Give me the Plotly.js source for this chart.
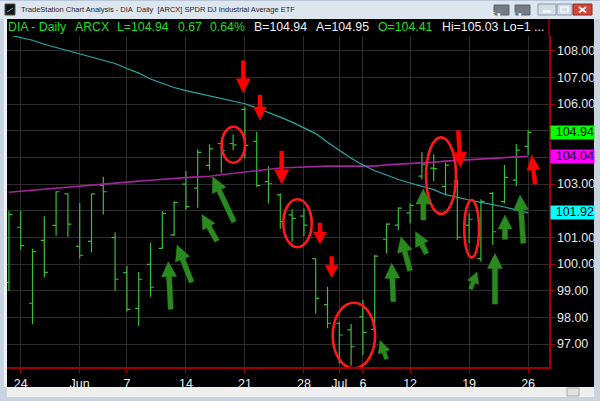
<!DOCTYPE html>
<html><head><meta charset="utf-8">
<script src="https://cdn.plot.ly/plotly-3.0.1.min.js"></script>
<style>html,body{margin:0;padding:0;background:#000;overflow:hidden}#chart{width:600px;height:401px}</style>
</head><body><div id="chart"></div>
<script>
// ---------------- data ----------------
const dates = [
 '2010-05-21','2010-05-24','2010-05-25','2010-05-26','2010-05-27','2010-05-28',
 '2010-06-01','2010-06-02','2010-06-03','2010-06-04',
 '2010-06-07','2010-06-08','2010-06-09','2010-06-10','2010-06-11',
 '2010-06-14','2010-06-15','2010-06-16','2010-06-17','2010-06-18',
 '2010-06-21','2010-06-22','2010-06-23','2010-06-24','2010-06-25',
 '2010-06-28','2010-06-29','2010-06-30','2010-07-01','2010-07-02',
 '2010-07-06','2010-07-07','2010-07-08','2010-07-09',
 '2010-07-12','2010-07-13','2010-07-14','2010-07-15','2010-07-16',
 '2010-07-19','2010-07-20','2010-07-21','2010-07-22','2010-07-23',
 '2010-07-26'];
const openP  = [99.31,101.38,98.53,100.89,101.45,102.63,100.66,100.85,102.95,100.99,
 99.68,98.34,99.99,100.59,101.09,103.00,102.85,103.70,104.52,104.52,
 105.80,104.60,103.09,102.59,101.84,101.80,100.20,98.48,97.78,97.53,
 98.02,97.55,100.93,101.46,101.92,103.30,103.60,102.90,103.10,101.46,
 100.20,102.65,102.34,103.15,104.41];
const highP  = [101.99,101.99,100.57,101.79,102.73,102.65,102.29,102.65,103.27,101.19,
 99.93,99.70,100.80,101.99,102.35,103.49,104.30,104.49,104.61,104.86,
 105.90,104.96,103.67,102.65,102.05,102.08,100.21,99.15,97.85,97.75,
 98.65,100.34,101.53,102.13,102.28,104.19,104.12,103.80,103.15,101.90,
 102.43,102.71,103.71,104.50,105.03];
const lowP   = [98.99,100.55,97.74,99.50,101.06,101.02,100.21,100.43,101.86,99.00,
 98.21,97.68,98.77,100.56,101.05,102.04,102.11,103.52,103.40,104.27,
 103.96,102.90,102.27,101.31,100.84,101.05,98.15,97.59,96.28,96.19,
 96.59,97.53,100.40,101.28,101.53,103.18,103.10,102.59,100.90,100.78,
 100.09,100.71,102.27,102.93,104.09];
const closeP = [101.85,100.69,100.47,99.69,102.71,101.50,100.33,102.63,102.71,99.43,
 98.30,99.43,99.13,101.90,102.30,102.15,104.19,104.32,104.25,104.47,
 104.45,102.94,103.01,101.59,101.71,101.46,98.71,97.78,97.34,96.90,
 97.44,100.30,101.50,102.10,102.20,103.75,103.58,103.71,101.00,101.68,
 102.35,101.21,103.25,104.27,104.94];
const avgCyan = [108.59,108.49,108.39,108.24,108.12,108.00,107.88,107.78,107.66,107.52,
 107.33,107.16,106.94,106.77,106.62,106.50,106.40,106.30,106.20,106.11,
 106.01,105.85,105.69,105.51,105.32,105.11,104.89,104.57,104.27,103.97,
 103.71,103.50,103.34,103.17,103.04,102.91,102.79,102.60,102.49,102.40,
 102.31,102.23,102.14,102.03,101.92];
const avgMagenta = [102.69,102.73,102.77,102.80,102.84,102.88,102.92,102.95,102.99,103.03,
 103.07,103.11,103.14,103.18,103.21,103.24,103.27,103.29,103.35,103.40,
 103.45,103.52,103.56,103.60,103.62,103.64,103.66,103.67,103.67,103.67,
 103.67,103.67,103.72,103.74,103.76,103.78,103.82,103.86,103.88,103.90,
 103.93,103.96,103.99,104.01,104.04];
const tickDates  = ['2010-05-24','2010-06-01','2010-06-07','2010-06-14','2010-06-21','2010-06-28','2010-07-01','2010-07-06','2010-07-12','2010-07-19','2010-07-26'];
const tickLabels = ['24','Jun','7','14','21','28','Jul','6','12','19','26'];
const bidText = 'B=104.94', askText = 'A=104.95', lowText = 'Lo=1 ...';

// ---------------- layout helpers ----------------
const W = 600, H = 401, ML = 7, MR = 51, MT = 36, MB = 34;
const PW = W - ML - MR, PH = H - MT - MB;
const PX = x => (x - ML) / PW;
const PY = y => (H - MB - y) / PH;
const FONT = '"Liberation Sans", Arial, Helvetica, sans-serif';
const GREEN = '#36be36', RED = '#ff0000', AGREEN = '#2b8a1f';

function arrowPath(dx, dy, shaftW, headW, headL) {
  const L = Math.hypot(dx, dy), ux = dx / L, uy = dy / L, nx = -uy, ny = ux;
  const bx = ux * headL, by = uy * headL;
  const pts = [[0,0],[bx+nx*headW/2,by+ny*headW/2],[bx+nx*shaftW/2,by+ny*shaftW/2],
    [dx+nx*shaftW/2,dy+ny*shaftW/2],[dx-nx*shaftW/2,dy-ny*shaftW/2],
    [bx-nx*shaftW/2,by-ny*shaftW/2],[bx-nx*headW/2,by-ny*headW/2]];
  return 'M' + pts.map(p => p[0].toFixed(2) + ',' + (-p[1]).toFixed(2)).join(' L') + ' Z';
}
function arrow(idx, price, dx, dy, color, shaftW, headW, headL) {
  return {type:'path', xref:'x', yref:'y', xsizemode:'pixel', ysizemode:'pixel',
    xanchor: idx, yanchor: price, path: arrowPath(dx, dy, shaftW, headW, headL),
    fillcolor: color, line:{color: color, width: 0.5}, layer:'above'};
}
function ring(x0, x1, y0, y1) {
  return {type:'circle', xref:'x', yref:'y', x0, x1, y0, y1,
    line:{color:'#ff1a1a', width:2.6}, fillcolor:'rgba(0,0,0,0)', layer:'above'};
}
function prect(x0, y0, x1, y1, fill, lc, lw) {
  return {type:'rect', xref:'paper', yref:'paper', x0:PX(x0), x1:PX(x1), y0:PY(y1), y1:PY(y0),
    fillcolor: fill, line:{color: lc || fill, width: lw || 0}, layer:'above'};
}
function pline(x0, y0, x1, y1, color, w) {
  return {type:'line', xref:'paper', yref:'paper', x0:PX(x0), x1:PX(x1), y0:PY(y0), y1:PY(y1),
    line:{color, width:w}, layer:'above'};
}

const shapes = [
  // window chrome
  prect(0, 0, 600, 19, '#dde5ee'),
  prect(0, 0, 600, 1, '#b8c6d8'),
  prect(0, 19, 7, 401, '#c9d4e1'),
  prect(4, 19, 7, 387, '#eef2f7'),
  prect(594, 19, 600, 401, '#c9d4e1'),
  prect(0, 387, 600, 401, '#c9d4e1'),
  prect(7, 387, 594, 397, '#efefef'),
  prect(567, 388, 579, 396, '#e2e2e2', '#a8a8a8', 1),
  prect(5, 4, 15, 15, '#111111', '#555', 1),
  pline(7, 12, 13, 8, '#2fd0d0', 1),
  prect(494, 5, 509, 15, '#737b85', '#5a626b', 1),
  prect(515, 5, 530, 15, '#737b85', '#5a626b', 1),
  prect(538, 4, 556, 15, '#d3dce7', '#8b9bb0', 1),
  pline(543, 11.5, 551, 11.5, '#ffffff', 2),
  prect(557, 4, 572, 15, '#d3dce7', '#8b9bb0', 1),
  prect(561, 7, 568, 12, 'rgba(0,0,0,0)', '#ffffff', 1.2),
  prect(573, 4, 592, 15, '#d2473a', '#8e2a22', 1),
  pline(579, 7, 586, 12.5, '#ffffff', 1.6),
  pline(579, 12.5, 586, 7, '#ffffff', 1.6),
  // axis line extension up into header
  pline(549, 36, 549, 19, '#a00000', 1.5),
  // ellipses
  ring(18.03, 20.01, 103.80, 105.15),
  ring(23.25, 25.66, 100.63, 102.43),
  ring(27.44, 31.03, 96.09, 98.55),
  ring(35.35, 37.89, 101.88, 104.75),
  ring(38.59, 39.84, 100.25, 102.40),
  // red arrows
  arrow(19.86, 106.42, 0, -32, RED, 4, 14, 14),
  arrow(21.28, 105.40, 0, -25, RED, 4, 13, 13),
  arrow(23.12, 103.00, 0, -33, RED, 4, 14, 14),
  arrow(26.36, 100.75, 0, -21, RED, 4, 13, 12),
  arrow(27.36, 99.50, 0, -21, RED, 4, 13, 12),
  arrow(38.28, 103.63, -2.4, -36.6, RED, 4, 14, 15),
  arrow(44.31, 104.09, 3.3, 29, RED, 4, 13, 15),
  // green arrows
  arrow(13.51, 100.09, 2.4, 47.6, AGREEN, 5, 15, 15),
  arrow(14.25, 100.71, 14.5, 37, AGREEN, 5, 15, 15),
  arrow(16.36, 101.86, 15, 26.5, AGREEN, 5, 14, 14),
  arrow(17.27, 103.27, 21.3, 45, AGREEN, 5, 15, 15),
  arrow(31.45, 97.13, 6.5, 18.5, AGREEN, 4, 12, 12),
  arrow(32.44, 100.03, 1.6, 38.4, AGREEN, 5, 15, 15),
  arrow(33.22, 101.02, 9, 33.8, AGREEN, 5, 15, 15),
  arrow(34.46, 101.21, 11, 21.8, AGREEN, 5, 14, 14),
  arrow(35.12, 102.81, 0, 31, AGREEN, 5, 15, 15),
  arrow(39.67, 99.70, -6.5, 17, AGREEN, 4, 12, 11),
  arrow(41.19, 100.40, 0, 50.7, AGREEN, 5, 15, 15),
  arrow(42.04, 101.84, 0, 24.3, AGREEN, 5, 14, 14),
  arrow(43.31, 102.59, 3.3, 48.3, AGREEN, 5, 15, 15)
];

const n = closeP.length;
const lastC = closeP[n-1], prevC = closeP[n-2];
const chg = lastC - prevC, pct = chg / prevC * 100;
function hdr(px, text, color) {
  return {xref:'paper', yref:'paper', x:PX(px), y:PY(27.5), xanchor:'left', yanchor:'middle',
    text, showarrow:false, borderpad:0, font:{family:FONT, size:12.3, color}};
}
function box(val, bg) {
  return {xref:'paper', yref:'y', x:PX(550), y:val, xanchor:'left', yanchor:'middle',
    text: val.toFixed(2), showarrow:false, bgcolor:bg, width:43, height:12.5, borderpad:0,
    align:'right', font:{family:FONT, size:12.5, color:'#000'}};
}
const HG = '#22dd22', HW = '#f0f0f0';
const annotations = [
  {xref:'paper', yref:'paper', x:PX(19), y:PY(10), xanchor:'left', yanchor:'middle', showarrow:false,
   text:'TradeStation Chart Analysis - DIA  Daily  [ARCX] SPDR DJ Industrial Average ETF',
   font:{family:FONT, size:7.5, color:'#1e1e1e'}},
  {xref:'paper', yref:'paper', x:PX(501.5), y:PY(10), showarrow:false, borderpad:0, text:'S ▾', font:{family:FONT, size:6.5, color:'#fff'}},
  {xref:'paper', yref:'paper', x:PX(522.5), y:PY(10), showarrow:false, borderpad:0, text:'I ▾', font:{family:FONT, size:6.5, color:'#fff'}},
  hdr(6.9, 'DIA - Daily', HG),
  hdr(73.5, 'ARCX', HG),
  hdr(116, 'L=' + lastC.toFixed(2), HG),
  hdr(177, chg.toFixed(2), HG),
  hdr(208.6, pct.toFixed(2) + '%', HG),
  hdr(252.6, bidText, HW),
  hdr(314.6, askText, HW),
  hdr(377, 'O=' + openP[n-1].toFixed(2), HG),
  hdr(441, 'Hi=' + highP[n-1].toFixed(2), HW),
  hdr(502, lowText, HW),
  box(lastC, '#00ff00'),
  box(avgMagenta[n-1], '#ff00ff'),
  box(avgCyan[n-1], '#00ffff')
];

const traces = [
  {type:'scatter', mode:'lines', x:dates, y:avgMagenta, line:{color:'#a3239b', width:1.6}, hoverinfo:'skip'},
  {type:'scatter', mode:'lines', x:dates, y:avgCyan, line:{color:'#27a9aa', width:1.2}, hoverinfo:'skip'},
  {type:'ohlc', x:dates, open:openP, high:highP, low:lowP, close:closeP, tickwidth:0.3,
   increasing:{line:{color:GREEN, width:1.2}}, decreasing:{line:{color:GREEN, width:1.2}}, hoverinfo:'skip'}
];

const layout = {
  width:W, height:H, margin:{l:ML, r:MR, t:MT, b:MB, pad:0},
  paper_bgcolor:'#000', plot_bgcolor:'#000', showlegend:false,
  xaxis:{type:'category', range:[-0.161, 45.77], rangeslider:{visible:false}, fixedrange:true,
    tickmode:'array', tickvals:tickDates, ticktext:tickLabels,
    ticks:'outside', ticklen:4, tickcolor:'#a00000', tickwidth:1,
    showline:true, linecolor:'#a00000', linewidth:1.5,
    showgrid:true, gridcolor:'#2c2c2c', gridwidth:1, zeroline:false,
    tickfont:{family:FONT, size:12.5, color:'#eeeeee'}},
  yaxis:{side:'right', range:[96.14, 108.55], dtick:1, tick0:0, tickformat:'.2f', fixedrange:true,
    ticks:'outside', ticklen:4, tickcolor:'#a00000', tickwidth:1,
    showline:true, linecolor:'#a00000', linewidth:1.5,
    showgrid:true, gridcolor:'#2c2c2c', gridwidth:1, zeroline:false,
    tickfont:{family:FONT, size:12.5, color:'#e6e6e6'}},
  shapes, annotations
};
Plotly.newPlot('chart', traces, layout, {displayModeBar:false, staticPlot:true});
</script></body></html>
